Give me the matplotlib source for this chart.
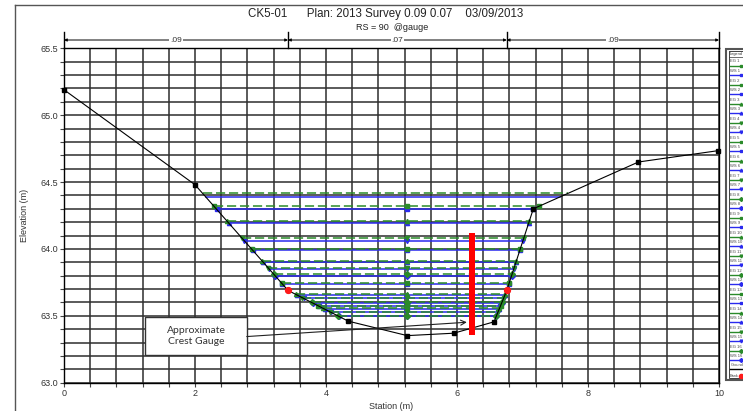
import numpy as np
import matplotlib
matplotlib.use("Agg")
import matplotlib.pyplot as plt
from matplotlib.patches import Rectangle
from matplotlib.lines import Line2D

# Ground survey (station m, elevation m)
ground_sta = [0.0, 2.0, 3.42, 4.34, 5.24, 5.95, 6.565, 6.76, 7.165, 8.77, 9.99]
ground_elev = [65.19, 64.48, 63.69, 63.46, 63.352, 63.37, 63.455, 63.69, 64.30, 64.65, 64.735]
thalweg_index = 4

# Bank stations
bank_sta = [3.42, 6.76]
bank_elev = [63.69, 63.69]

# Manning's n sub-reaches
n_values = [".09", ".07", ".09"]
n_breaks = [0.0, 3.42, 6.76, 10.0]

# Profiles: energy grade and water surface elevations
profile_names = [f"{i}" for i in range(1, 17)]
eg_elev = [64.415, 64.32, 64.21, 64.08, 64.00, 63.91, 63.86, 63.81,
           63.745, 63.66, 63.635, 63.60, 63.575, 63.555, 63.53, 63.50]
ws_elev = [64.39, 64.295, 64.195, 64.06, 63.99, 63.90, 63.85, 63.80,
           63.74, 63.655, 63.63, 63.595, 63.57, 63.55, 63.525, 63.495]

# Crest gauge
gauge_sta = 6.23
gauge_bottom = 63.36
gauge_top = 64.12

title = "CK5-01      Plan: 2013 Survey 0.09 0.07    03/09/2013"
subtitle = "RS = 90  @gauge"

EG_COLOR = "#2a8a2a"
WS_COLOR = "#2a2aee"
MARKERS = [None, "s", "^", "v", "s", "^", "v", "D", "s", "^", "v", "D", "s", "^", "v", "D"]

fig = plt.figure(figsize=(7.43, 4.11), dpi=100)
W, H = 743, 411
ax = fig.add_axes([64 / W, 1 - 382.7 / H, (719 - 64) / W, (382.7 - 48.3) / H])

ax.set_xlim(0, 10)
ax.set_ylim(63.0, 65.5)

# Grid
for gx in np.arange(0, 10.0001, 0.4):
    ax.axvline(gx, color="#2e2e2e", lw=1.1, zorder=0.5)
for gy in np.arange(63.0, 65.5001, 0.1):
    ax.axhline(gy, color="#2e2e2e", lw=1.1, zorder=0.5)

ax.set_xticks([0, 2, 4, 6, 8, 10])
ax.set_yticks([63.0, 63.5, 64.0, 64.5, 65.0, 65.5])
ax.set_yticklabels([f"{v:.1f}" for v in [63.0, 63.5, 64.0, 64.5, 65.0, 65.5]])
ax.set_xticks(np.arange(0, 10.0001, 0.4), minor=True)
ax.set_yticks(np.arange(63.0, 65.5001, 0.1), minor=True)
ax.tick_params(which="both", direction="out", length=3, width=0.8, color="#444444")
ax.tick_params(labelsize=6.5, pad=1.5, labelcolor="#333333")
for lab in ax.get_xticklabels() + ax.get_yticklabels():
    lab.set_family("Liberation Sans")
for sp in ax.spines.values():
    sp.set_color("black")
    sp.set_linewidth(1.0)

ax.set_xlabel("Station (m)", fontsize=6.5, family="Liberation Sans", color="#333333", labelpad=3)
ax.set_ylabel("Elevation (m)", fontsize=6.5, family="Liberation Sans", color="#333333", labelpad=8)

# Water lines
sta = np.array(ground_sta)
elev = np.array(ground_elev)
left_s, left_e = sta[:thalweg_index + 1], elev[:thalweg_index + 1]
right_s, right_e = sta[thalweg_index:], elev[thalweg_index:]


def edges(level):
    xl = np.interp(level, left_e[::-1], left_s[::-1])
    xr = np.interp(level, right_e, right_s)
    return xl, xr


for i, (eg, ws) in enumerate(zip(eg_elev, ws_elev)):
    m = MARKERS[i % len(MARKERS)]
    xl, xr = edges(ws)
    ax.plot([xl, sta[thalweg_index], xr], [ws] * 3, color=WS_COLOR, lw=1.1,
            marker=m, ms=3, zorder=2)
    xl, xr = edges(eg)
    ax.plot([xl, sta[thalweg_index], xr], [eg] * 3, color=EG_COLOR, lw=1.1,
            ls=(0, (6, 2.5)), marker=m, ms=3, zorder=2.1)

# Ground and bank stations
ax.plot(ground_sta, ground_elev, color="black", lw=0.8, marker="s", ms=3.2,
        zorder=3, clip_on=False)
ax.plot(bank_sta, bank_elev, ls="none", marker="o", ms=4.2, color="#ff1a1a",
        zorder=3.5)

# Crest gauge
ax.bar(gauge_sta, gauge_top - gauge_bottom, bottom=gauge_bottom, width=0.09,
       color="#ff0000", zorder=4)

# Annotation box and arrow
ax.add_patch(Rectangle((1.24, 63.208), 1.55, 0.284, facecolor="white",
                       edgecolor="#333333", lw=1.0, zorder=5))
ax.text(2.015, 63.35, "Approximate\nCrest Gauge", ha="center", va="center",
        fontsize=7.5, family="Lato", color="#333333", linespacing=1.35, zorder=6)
ax.annotate("", xy=(6.15, 63.452), xytext=(2.79, 63.345),
            arrowprops=dict(arrowstyle="->", lw=0.8, color="#222222",
                            mutation_scale=9, shrinkA=0, shrinkB=0), zorder=5)

# Manning's n bracket above the plot
trans = ax.get_xaxis_transform()
for b in n_breaks:
    ax.plot([b, b], [1.0, 1.048], transform=trans, color="black", lw=1.0,
            clip_on=False)
for k, lab in enumerate(n_values):
    a, b = n_breaks[k], n_breaks[k + 1]
    ax.annotate("", xy=(b, 1.0248), xytext=(a, 1.0248), xycoords=trans,
                textcoords=trans,
                arrowprops=dict(arrowstyle="<|-|>", lw=0.7, color="black",
                                mutation_scale=4, shrinkA=0, shrinkB=0))
    ax.text((a + b) / 2, 1.0248, lab, transform=trans, ha="center", va="center",
            fontsize=6, family="Liberation Sans", color="#333333",
            bbox=dict(facecolor="white", edgecolor="none", pad=0.5), zorder=6)

# Titles
fig.text(386 / W, 1 - 14 / H, title, ha="center", va="center", fontsize=8.3,
         family="Liberation Sans", color="#222222")
fig.text(392 / W, 1 - 27 / H, subtitle, ha="center", va="center", fontsize=6.5,
         family="Liberation Sans", color="#222222")

# Outer frame
fig.add_artist(Line2D([15 / W, 15 / W], [1 - 5 / H, -0.01], transform=fig.transFigure,
                      color="#555555", lw=1.0))
fig.add_artist(Line2D([15 / W, 1.01], [1 - 5 / H, 1 - 5 / H], transform=fig.transFigure,
                      color="#555555", lw=1.0))

# Legend panel
lax = fig.add_axes([0, 0, 1, 1], facecolor="none")
lax.set_xlim(0, W)
lax.set_ylim(H, 0)
lax.axis("off")
lax.add_patch(Rectangle((726, 49), 40, 331, facecolor="white", edgecolor="#555555",
                        lw=1.5, clip_on=False))
lax.add_patch(Rectangle((728.5, 51.5), 40, 326, facecolor="none", edgecolor="#222222",
                        lw=0.6, clip_on=False))
lax.text(729.5, 53.5, "Legend", fontsize=2.8, family="Liberation Sans", va="center",
         color="#333333")
lax.plot([729, 745], [57, 57], color="#333333", lw=0.5, clip_on=False)
y = 62.7
for i, name in enumerate(profile_names):
    for kind, col in (("EG", EG_COLOR), ("WS", WS_COLOR)):
        lax.text(730.5, y - 1.2, f"{kind} {name}", fontsize=3.0, family="Liberation Sans",
                 va="center", color="#444444")
        lax.plot([729.5, 746], [y + 3.2, y + 3.2], color=col, lw=1.0, clip_on=False)
        lax.plot([741], [y + 3.2], marker=MARKERS[i] or "s", ms=2, color=col,
                 clip_on=False)
        y += 9.5
lax.text(730.5, 364.5, "Ground", fontsize=2.8, family="Liberation Sans", va="center",
         color="#444444")
lax.plot([729.5, 746], [368.5, 368.5], color="black", lw=1.0, clip_on=False)
lax.text(729.5, 376, "Bank", fontsize=2.8, family="Liberation Sans", va="center",
         color="#444444")
lax.plot([741], [376], marker="o", ms=3, color="#ff1a1a", clip_on=False)

fig.savefig("out.png", dpi=100)
